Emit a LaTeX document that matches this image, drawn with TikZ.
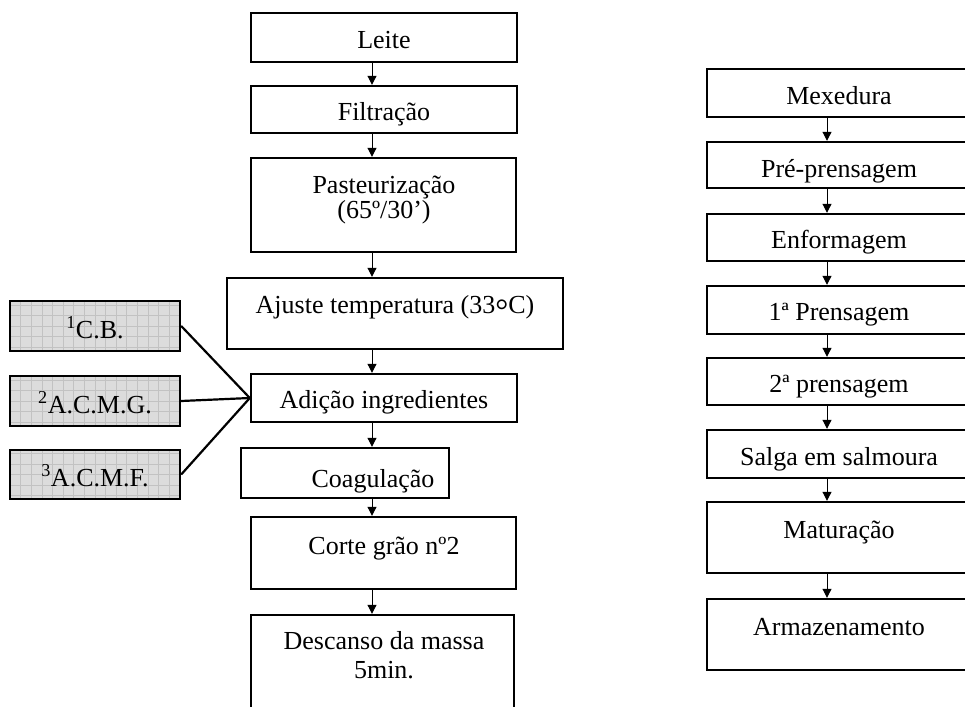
\documentclass[tikz,border=0pt]{standalone}
\usepackage{fontspec}
\setmainfont{Liberation Serif}
\usetikzlibrary{arrows.meta,fit}
\definecolor{grayfill}{HTML}{DCDCDC}
\definecolor{gridcol}{HTML}{C2C2C2}
\newcommand\boxtext[5]{\begin{scope}\clip ([yshift=6.5pt]#1.south west) rectangle (#1.north east);\node[txt] (#2) at (#3,#4) {#5};\end{scope}}
\begin{document}
\begin{tikzpicture}[x=1pt,y=-1pt,
  stepbox/.style={draw, line width=2.4pt, inner sep=0pt, fill=white},
  graybox/.style={draw, line width=2.4pt, inner sep=0pt, fill=grayfill,
    path picture={\draw[gridcol, line width=0.6pt] (path picture bounding box.south west) grid[step=10.6pt] (path picture bounding box.north east);}},
  txt/.style={anchor=base, inner sep=0pt, font=\fontsize{26}{31}\selectfont},
  arr/.style={line width=1pt, -{Triangle[length=9pt,width=9pt]}},
  conn/.style={line width=2.2pt}]
\path[use as bounding box, clip] (0,0) rectangle (965,706);
\fill[white] (0,0) rectangle (965,706);
\coordinate (ax) at (372,0);
\coordinate (bx) at (827,0);
% middle column
\node[stepbox, fit={(251,13) (517,62)}] (leite) {};
\node[stepbox, fit={(251,86) (517,133)}] (filt) {};
\node[stepbox, fit={(251,158) (516,252)}] (past) {};
\node[stepbox, fit={(227,278) (563,349)}] (ajuste) {};
\node[stepbox, fit={(251,374) (517,422)}] (adicao) {};
\node[stepbox, fit={(241,448) (449,498)}] (coag) {};
\node[stepbox, fit={(251,517) (516,589)}] (corte) {};
\node[stepbox, fit={(251,615) (514,730)}] (desc) {};
% right column
\node[stepbox, fit={(707,69) (971,117)}] (mex) {};
\node[stepbox, fit={(707,142) (971,188)}] (pre) {};
\node[stepbox, fit={(707,214) (971,261)}] (enf) {};
\node[stepbox, fit={(707,286) (971,334)}] (p1) {};
\node[stepbox, fit={(707,358) (971,405)}] (p2) {};
\node[stepbox, fit={(707,430) (971,478)}] (salga) {};
\node[stepbox, fit={(707,502) (971,573)}] (mat) {};
\node[stepbox, fit={(707,599) (971,670)}] (arm) {};
% gray boxes
\node[graybox, fit={(10,301) (180,351)}] (cb) {};
\node[graybox, fit={(10,376) (180,426)}] (acmg) {};
\node[graybox, fit={(10,450) (180,499)}] (acmf) {};
% texts
\boxtext{leite}{leite-t}{384}{49}{Leite}
\boxtext{filt}{filt-t}{384}{121}{Filtração}
\boxtext{past}{past-t1}{384}{193}{Pasteurização}
\boxtext{past}{past-t2}{384}{218}{(65º/30’)}
\boxtext{ajuste}{ajuste-t}{395}{313}{Ajuste temperatura (33\raisebox{-0.32em}{\scalebox{1.25}{°}}C)}
\boxtext{adicao}{adicao-t}{384}{408}{Adição ingredientes}
\boxtext{coag}{coag-t}{373}{487}{Coagulação}
\boxtext{corte}{corte-t}{384}{554}{Corte grão nº2}
\boxtext{desc}{desc-t1}{384}{649}{Descanso da massa}
\boxtext{desc}{desc-t2}{384}{678}{5min.}
\boxtext{mex}{mex-t}{839}{105}{Mexedura}
\boxtext{pre}{pre-t}{839}{177}{Pré-prensagem}
\boxtext{enf}{enf-t}{839}{248}{Enformagem}
\boxtext{p1}{p1-t}{839}{320}{1ª Prensagem}
\boxtext{p2}{p2-t}{839}{392}{2ª prensagem}
\boxtext{salga}{salga-t}{839}{465}{Salga em salmoura}
\boxtext{mat}{mat-t}{839}{538}{Maturação}
\boxtext{arm}{arm-t}{839}{635}{Armazenamento}
\node[txt] (cb-t) at (95,338) {\textsuperscript{1}C.B.};
\node[txt] (acmg-t) at (95,413) {\textsuperscript{2}A.C.M.G.};
\node[txt] (acmf-t) at (95,486) {\textsuperscript{3}A.C.M.F.};
% arrows middle
\draw[arr] (leite.south -| ax) -- (filt.north -| ax);
\draw[arr] (filt.south -| ax) -- (past.north -| ax);
\draw[arr] (past.south -| ax) -- (ajuste.north -| ax);
\draw[arr] (ajuste.south -| ax) -- (adicao.north -| ax);
\draw[arr] (adicao.south -| ax) -- (coag.north -| ax);
\draw[arr] (coag.south -| ax) -- (corte.north -| ax);
\draw[arr] (corte.south -| ax) -- (desc.north -| ax);
% arrows right
\draw[arr] (mex.south -| bx) -- (pre.north -| bx);
\draw[arr] (pre.south -| bx) -- (enf.north -| bx);
\draw[arr] (enf.south -| bx) -- (p1.north -| bx);
\draw[arr] (p1.south -| bx) -- (p2.north -| bx);
\draw[arr] (p2.south -| bx) -- (salga.north -| bx);
\draw[arr] (salga.south -| bx) -- (mat.north -| bx);
\draw[arr] (mat.south -| bx) -- (arm.north -| bx);
% ingredient connectors
\draw[conn] (cb.east) -- (adicao.west);
\draw[conn] (acmg.east) -- (adicao.west);
\draw[conn] (acmf.east) -- (adicao.west);
\end{tikzpicture}
\end{document}
